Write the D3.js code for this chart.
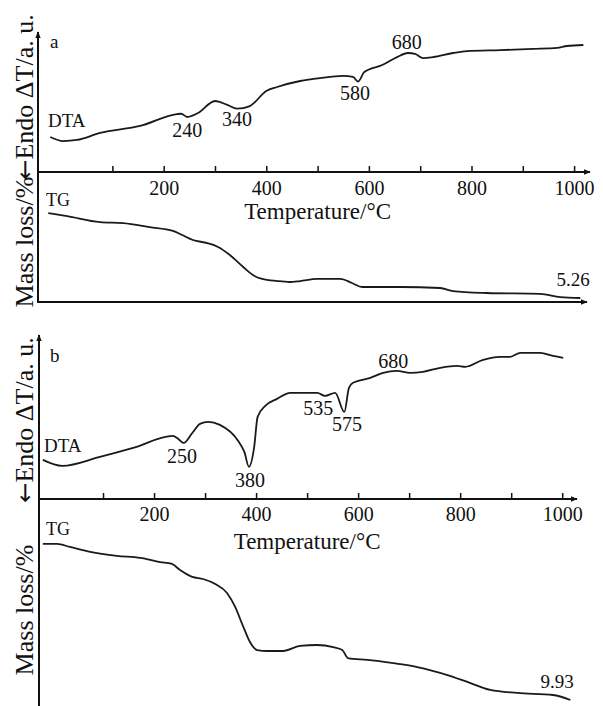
<!DOCTYPE html>
<html>
<head>
<meta charset="utf-8">
<script src="https://cdn.jsdelivr.net/npm/d3@7"></script>
<style>
  body { margin: 0; background: #fff; }
  svg { display: block; }
</style>
</head>
<body>
<svg id="chart" width="603" height="706"></svg>
<script>
const FONT = "'Liberation Serif', 'Times New Roman', serif";

// ticks along the temperature axis
const tickValues = [100, 200, 300, 400, 500, 600, 700, 800, 900, 1000];
const tickLabels = [200, 400, 600, 800, 1000];

// sample a: [temperature, DTA a.u.]
const dtaA = [[-21,25],[4,22.1],[31,22.9],[76,27.9],[154,32.9],[226,41.4],[234,41.6],[246,39.3],[267,42.1],
  [300,50.7],[324,47.9],[343,45.2],[368,47.1],[400,57.9],[421,60.7],[466,65],[505,67.1],[550,68.6],[569,67.9],
  [579,64.6],[591,71.4],[626,76.4],[655,82.1],[676,85],[690,84.3],[706,81.4],[725,82.1],[764,85],[791,86.4],
  [856,87.1],[920,87.9],[967,88.6],[986,90],[1018,90.7]];
// sample a: [temperature, mass loss %]
const tgA = [[-25,0],[12,0.19],[76,0.56],[121,0.62],[173,0.87],[218,1.11],[236,1.36],[257,1.67],[285,1.86],
  [306,2.10],[329,2.60],[355,3.34],[374,3.84],[392,4.08],[421,4.21],[446,4.27],[466,4.21],[499,4.08],[544,4.08],
  [567,4.33],[587,4.58],[661,4.58],[739,4.64],[764,4.83],[830,4.95],[934,5.01],[973,5.20],[1012,5.26]];

// sample b
const dtaB = [[-18,27.9],[20,23.6],[94,30],[159,36.4],[237,45],[247,43],[258,40],[275,47.1],[290,53.6],[306,55],
  [329,52.9],[365,41.4],[377,33.6],[386,22.9],[396,36.4],[403,58.6],[418,66.4],[441,71.4],[467,75.7],[486,75.7],
  [520,75.7],[535,73.6],[555,75.7],[573,62.1],[582,79.3],[590,82.9],[624,86.4],[649,90],[676,91.4],[702,90],
  [727,90.7],[761,93.6],[794,95],[810,94.3],[845,99.3],[878,101.4],[898,101.4],[918,104.3],[957,104.3],
  [982,102.1],[1002,100.7]];
const tgB = [[-18,0],[10,0],[35,0.19],[75,0.51],[127,0.76],[173,0.89],[212,1.15],[235,1.27],[251,1.66],[275,2.10],
  [296,2.23],[320,2.55],[343,3.12],[359,4.01],[375,5.28],[388,6.24],[402,6.75],[422,6.81],[453,6.81],[486,6.49],
  [520,6.43],[551,6.56],[569,6.75],[580,7.26],[618,7.38],[682,7.64],[716,7.83],[775,8.34],[814,8.78],[859,9.29],
  [912,9.48],[982,9.61],[1016,9.93]];

// peak labels: text, temperature, value where the text sits
const peaksA = [{ text: "240", t: 246, v: 25 }, { text: "340", t: 343, v: 32.9 },
  { text: "580", t: 573, v: 51.4 }, { text: "680", t: 674, v: 87.9 }];
const peaksB = [{ text: "250", t: 255, v: 25.7 }, { text: "380", t: 388, v: 8.6 },
  { text: "535", t: 522, v: 60 }, { text: "575", t: 578, v: 48.6 }, { text: "680", t: 669, v: 93.6 }];
const lossA = { text: "5.26", t: 998, v: 4.52 };
const lossB = { text: "9.93", t: 990, v: 9.17 };

const svg = d3.select("#chart");

const defs = svg.append("defs");
defs.append("marker")
  .attr("id", "arrow")
  .attr("viewBox", "0 0 10 10")
  .attr("refX", 9).attr("refY", 5)
  .attr("markerWidth", 7).attr("markerHeight", 7)
  .attr("markerUnits", "userSpaceOnUse")
  .attr("orient", "auto")
  .append("path")
  .attr("d", "M0,1 L10,5 L0,9 z")
  .attr("fill", "#111");

function drawPanel(p) {
  const g = svg.append("g");
  const x = d3.scaleLinear().domain([p.tMin, p.tMax]).range([p.left, p.right]);
  const yD = d3.scaleLinear().domain([0, p.dtaMax]).range([p.axisY, p.top]);
  const yT = d3.scaleLinear().domain([p.tgMin, p.tgMax]).range([p.axisY, p.bottom]);

  // tick marks (pointing up)
  const ticks = g.append("g")
    .attr("transform", `translate(0,${p.axisY})`)
    .call(d3.axisBottom(x).tickValues(tickValues).tickSizeInner(-6).tickSizeOuter(0).tickFormat(""));
  ticks.select(".domain").remove();
  ticks.selectAll("line").attr("stroke", "#111").attr("stroke-width", 1.5);

  const labels = g.append("g")
    .attr("transform", `translate(0,${p.axisY})`)
    .call(d3.axisBottom(x).tickValues(tickLabels).tickSize(0).tickPadding(p.tickPad).tickFormat(d3.format("d")));
  labels.select(".domain").remove();
  labels.attr("font-family", FONT).attr("font-size", 20);
  labels.selectAll("text").attr("fill", "#111");

  // axes lines
  g.append("line")
    .attr("x1", p.left).attr("x2", p.left)
    .attr("y1", p.bottom).attr("y2", p.top)
    .attr("stroke", "#111").attr("stroke-width", 2)
    .attr("marker-end", "url(#arrow)");
  g.append("line")
    .attr("x1", p.left).attr("x2", p.right)
    .attr("y1", p.axisY).attr("y2", p.axisY)
    .attr("stroke", "#111").attr("stroke-width", 2)
    .attr("marker-end", "url(#arrow)");
  if (p.bottomAxis) {
    g.append("line")
      .attr("x1", p.left).attr("x2", p.right - 3)
      .attr("y1", p.bottom - 1).attr("y2", p.bottom - 1)
      .attr("stroke", "#111").attr("stroke-width", 2)
      .attr("marker-end", "url(#arrow)");
  }

  // curves
  const lineD = d3.line().x(d => x(d[0])).y(d => yD(d[1])).curve(d3.curveMonotoneX);
  const lineT = d3.line().x(d => x(d[0])).y(d => yT(d[1])).curve(d3.curveMonotoneX);
  g.append("path").datum(p.dta).attr("d", lineD)
    .attr("fill", "none").attr("stroke", "#1a1a1a").attr("stroke-width", 1.8);
  g.append("path").datum(p.tg).attr("d", lineT)
    .attr("fill", "none").attr("stroke", "#1a1a1a").attr("stroke-width", 1.8);

  const txt = g.append("g").attr("font-family", FONT).attr("fill", "#111");

  txt.selectAll("text.peak")
    .data(p.peaks)
    .join("text")
    .attr("class", "peak")
    .attr("x", d => x(d.t))
    .attr("y", d => yD(d.v))
    .attr("text-anchor", "middle")
    .attr("font-size", 20)
    .text(d => d.text);

  txt.append("text")
    .attr("x", x(p.loss.t)).attr("y", yT(p.loss.v))
    .attr("text-anchor", "middle").attr("font-size", 19)
    .text(p.loss.text);

  txt.append("text").attr("x", p.tagX).attr("y", p.tagY).attr("font-size", 19).text(p.tag);
  txt.append("text").attr("x", p.dtaLabelX).attr("y", p.dtaLabelY).attr("font-size", 19).text("DTA");
  txt.append("text").attr("x", 46).attr("y", p.tgLabelY).attr("font-size", 18).text("TG");

  txt.append("text")
    .attr("x", x(500)).attr("y", p.axisY + p.titleOffset)
    .attr("text-anchor", "middle").attr("font-size", 23)
    .text("Temperature/°C");

  const endo = txt.append("text")
    .attr("transform", `translate(33,${p.endoY}) rotate(-90)`)
    .attr("text-anchor", "middle").attr("font-size", 26);
  endo.append("tspan").attr("font-family", "'DejaVu Sans', sans-serif").attr("font-size", 24).text("←");
  endo.append("tspan").text("Endo ΔT/a. u.");

  txt.append("text")
    .attr("transform", `translate(33,${p.massY}) rotate(-90)`)
    .attr("text-anchor", "middle").attr("font-size", 26)
    .text("Mass loss/%");
}

drawPanel({
  left: 38, right: 590, tMin: -45, tMax: 1031,
  top: 32, axisY: 172, bottom: 303, bottomAxis: true,
  dtaMax: 100, tgMin: -2.54, tgMax: 5.57,
  dta: dtaA, tg: tgA, peaks: peaksA, loss: lossA,
  tag: "a", tagX: 50, tagY: 48, dtaLabelX: 48, dtaLabelY: 127, tgLabelY: 206,
  tickPad: 9, titleOffset: 47, endoY: 97, massY: 242
});

drawPanel({
  left: 39, right: 577, tMin: -25.5, tMax: 1029,
  top: 335, axisY: 499, bottom: 706, bottomAxis: false,
  dtaMax: 117, tgMin: -2.86, tgMax: 10.31,
  dta: dtaB, tg: tgB, peaks: peaksB, loss: lossB,
  tag: "b", tagX: 50, tagY: 362, dtaLabelX: 44, dtaLabelY: 452, tgLabelY: 535,
  tickPad: 8, titleOffset: 50, endoY: 420, massY: 610
});
</script>
</body>
</html>
